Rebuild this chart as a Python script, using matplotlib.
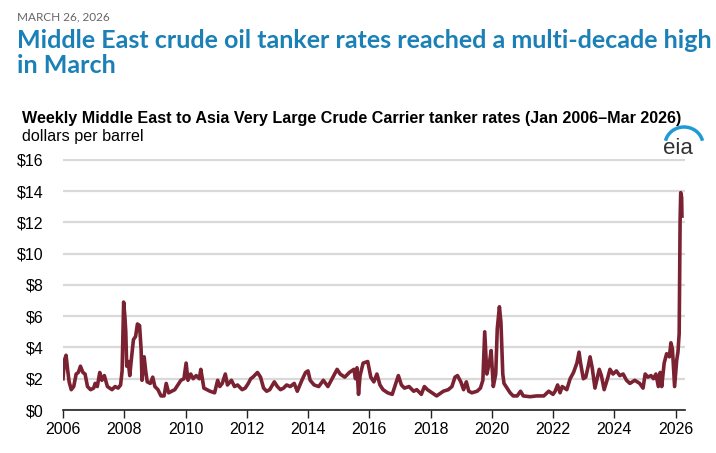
import matplotlib.pyplot as plt
from matplotlib.patches import Arc

# Weekly Middle East -> Asia VLCC rates (decimal year, $/bbl)
years = [
    2006.00, 2006.05, 2006.10, 2006.15, 2006.20, 2006.27, 2006.35, 2006.43, 2006.50, 2006.57,
    2006.65, 2006.72, 2006.80, 2006.90, 2007.00, 2007.05, 2007.12, 2007.20, 2007.27, 2007.35,
    2007.45, 2007.60, 2007.70, 2007.80, 2007.88, 2007.93, 2007.98, 2008.02, 2008.05, 2008.08,
    2008.13, 2008.18, 2008.23, 2008.30, 2008.37, 2008.43, 2008.50, 2008.55, 2008.58, 2008.65,
    2008.70, 2008.75, 2008.85, 2008.93, 2009.00, 2009.10, 2009.20, 2009.30, 2009.37, 2009.45,
    2009.55, 2009.65, 2009.75, 2009.85, 2009.95, 2010.02, 2010.08, 2010.17, 2010.25, 2010.35,
    2010.45, 2010.50, 2010.60, 2010.80, 2010.95, 2011.05, 2011.12, 2011.20, 2011.30, 2011.37,
    2011.50, 2011.60, 2011.70, 2011.85, 2011.95, 2012.05, 2012.13, 2012.20, 2012.35, 2012.45,
    2012.55, 2012.65, 2012.75, 2012.90, 2013.00, 2013.10, 2013.20, 2013.30, 2013.42, 2013.55,
    2013.65, 2013.80, 2013.92, 2014.00, 2014.07, 2014.20, 2014.35, 2014.50, 2014.65, 2014.95,
    2015.05, 2015.20, 2015.35, 2015.50, 2015.55, 2015.60, 2015.65, 2015.70, 2015.80, 2015.95,
    2016.00, 2016.05, 2016.15, 2016.25, 2016.35, 2016.45, 2016.60, 2016.75, 2016.85, 2016.95,
    2017.05, 2017.15, 2017.30, 2017.45, 2017.55, 2017.70, 2017.80, 2017.90, 2018.05, 2018.20,
    2018.42, 2018.58, 2018.70, 2018.80, 2018.88, 2018.99, 2019.08, 2019.17, 2019.25, 2019.35,
    2019.52, 2019.63, 2019.71, 2019.77, 2019.84, 2019.93, 2019.98, 2020.05, 2020.13, 2020.18,
    2020.25, 2020.30, 2020.36, 2020.40, 2020.50, 2020.60, 2020.70, 2020.83, 2020.94, 2021.03,
    2021.25, 2021.47, 2021.70, 2021.86, 2022.00, 2022.07, 2022.15, 2022.23, 2022.30, 2022.45,
    2022.56, 2022.67, 2022.78, 2022.85, 2022.90, 2022.99, 2023.07, 2023.15, 2023.21, 2023.28,
    2023.37, 2023.44, 2023.51, 2023.58, 2023.67, 2023.78, 2023.86, 2023.96, 2024.07, 2024.18,
    2024.29, 2024.40, 2024.51, 2024.67, 2024.83, 2024.94, 2025.01, 2025.10, 2025.20, 2025.28,
    2025.36, 2025.44, 2025.50, 2025.55, 2025.63, 2025.71, 2025.80, 2025.85, 2025.90, 2025.97,
    2026.04, 2026.08, 2026.12, 2026.15, 2026.17, 2026.20, 2026.21,
]
rates = [
    2.0, 3.2, 3.5, 2.6, 1.8, 1.3, 1.5, 2.3, 2.4, 2.8,
    2.4, 2.3, 1.5, 1.3, 1.4, 1.7, 1.5, 2.4, 1.9, 2.2,
    1.5, 1.3, 1.5, 1.4, 1.6, 2.5, 6.9, 6.0, 5.0, 2.8,
    3.1, 2.2, 3.2, 4.5, 4.7, 5.5, 5.4, 3.9, 1.9, 3.4,
    2.5, 1.8, 1.7, 2.1, 1.5, 1.3, 0.9, 0.9, 1.7, 1.1,
    1.2, 1.3, 1.6, 1.9, 2.0, 3.0, 1.9, 2.3, 2.0, 2.2,
    2.0, 2.6, 1.4, 1.2, 1.1, 1.9, 1.5, 1.7, 2.3, 1.6,
    1.9, 1.5, 1.6, 1.3, 1.4, 1.7, 2.0, 2.1, 2.4, 2.1,
    1.4, 1.2, 1.3, 1.8, 1.5, 1.3, 1.4, 1.6, 1.5, 1.7,
    1.2, 1.9, 2.4, 2.5, 1.9, 1.6, 1.5, 1.9, 1.5, 2.6,
    2.3, 2.1, 2.4, 2.6, 2.0, 2.7, 1.0, 2.2, 3.0, 3.1,
    2.6, 2.1, 1.8, 2.3, 1.6, 1.3, 1.1, 1.0, 1.6, 2.2,
    1.6, 1.4, 1.5, 1.2, 1.3, 1.0, 1.5, 1.3, 1.1, 0.9,
    1.2, 1.3, 1.5, 2.1, 2.2, 1.8, 1.3, 1.8, 1.2, 1.1,
    1.2, 1.4, 1.9, 5.0, 2.3, 3.1, 3.8, 1.5, 2.3, 5.2,
    6.6, 5.6, 2.3, 1.7, 1.4, 1.1, 0.9, 0.9, 1.2, 0.9,
    0.85, 0.9, 0.9, 1.2, 1.0, 1.2, 1.6, 1.1, 1.5, 1.3,
    2.0, 2.4, 3.0, 3.7, 3.0, 2.0, 2.1, 2.8, 3.4, 2.7,
    1.4, 2.0, 2.6, 2.2, 1.3, 2.0, 2.6, 2.3, 2.5, 2.2,
    2.3, 1.9, 1.7, 1.9, 1.7, 1.4, 2.3, 2.1, 2.2, 2.0,
    2.3, 1.5, 2.4, 1.5, 3.0, 3.6, 3.4, 4.3, 3.9, 1.5,
    3.2, 3.7, 4.9, 12.1, 13.9, 13.6, 12.4,
]

year_ticks = list(range(2006, 2027, 2))
rate_ticks = list(range(0, 17, 2))

fig = plt.figure(figsize=(7.16, 4.53), dpi=100)
ax = fig.add_axes([63 / 716, 1 - 410 / 453, 622 / 716, 251 / 453])

ax.plot(years, rates, color="#7b2232", linewidth=2.6, solid_joinstyle="round", zorder=3)

ax.set_xlim(2006, 2026.31)
ax.set_ylim(0, 16.05)
ax.set_xticks(year_ticks)
ax.set_xticklabels([str(y) for y in year_ticks], fontsize=11.5, family="Liberation Sans")
ax.set_yticks(rate_ticks)
ax.set_yticklabels(["$" + str(v) for v in rate_ticks], fontsize=11.5, family="Liberation Sans")
ax.yaxis.grid(True, color="#d9d9d9", linewidth=1.6)
ax.set_axisbelow(True)
ax.tick_params(axis="y", length=0, pad=14)
ax.tick_params(axis="x", length=6, width=1, color="#222222", pad=3)
for s in ["top", "right", "left"]:
    ax.spines[s].set_visible(False)
ax.spines["bottom"].set_color("#222222")
ax.spines["bottom"].set_linewidth(1.2)
ax.spines["bottom"].set_zorder(4)

# header text
fig.text(17 / 716, 1 - 17 / 453, "MARCH 26, 2026", fontsize=8.5, color="#666666",
         family="Lato", va="center")
fig.text(17 / 716, 1 - 29 / 453,
         "Middle East crude oil tanker rates reached a multi-decade high\nin March",
         fontsize=18, color="#1a80b6", family="Lato", weight="bold",
         va="top", linespacing=1.08)
fig.text(22 / 716, 1 - 119 / 453,
         "Weekly Middle East to Asia Very Large Crude Carrier tanker rates (Jan 2006\u2013Mar 2026)",
         fontsize=11.6, weight="bold", family="Liberation Sans", va="center")
fig.text(22 / 716, 1 - 137 / 453, "dollars per barrel", fontsize=11.6,
         family="Liberation Sans", va="center")

# eia logo
fig.text(678 / 716, 1 - 148 / 453, "eia", fontsize=16, color="#333333",
         family="Liberation Sans", ha="center", va="center")
logo = Arc((684 / 716, 1 - 145 / 453), 38 / 716, 36 / 453, theta1=20, theta2=160,
           transform=fig.transFigure, color="#1f9ad6", linewidth=2.5)
fig.patches.append(logo)

fig.savefig("out.png", dpi=100)
